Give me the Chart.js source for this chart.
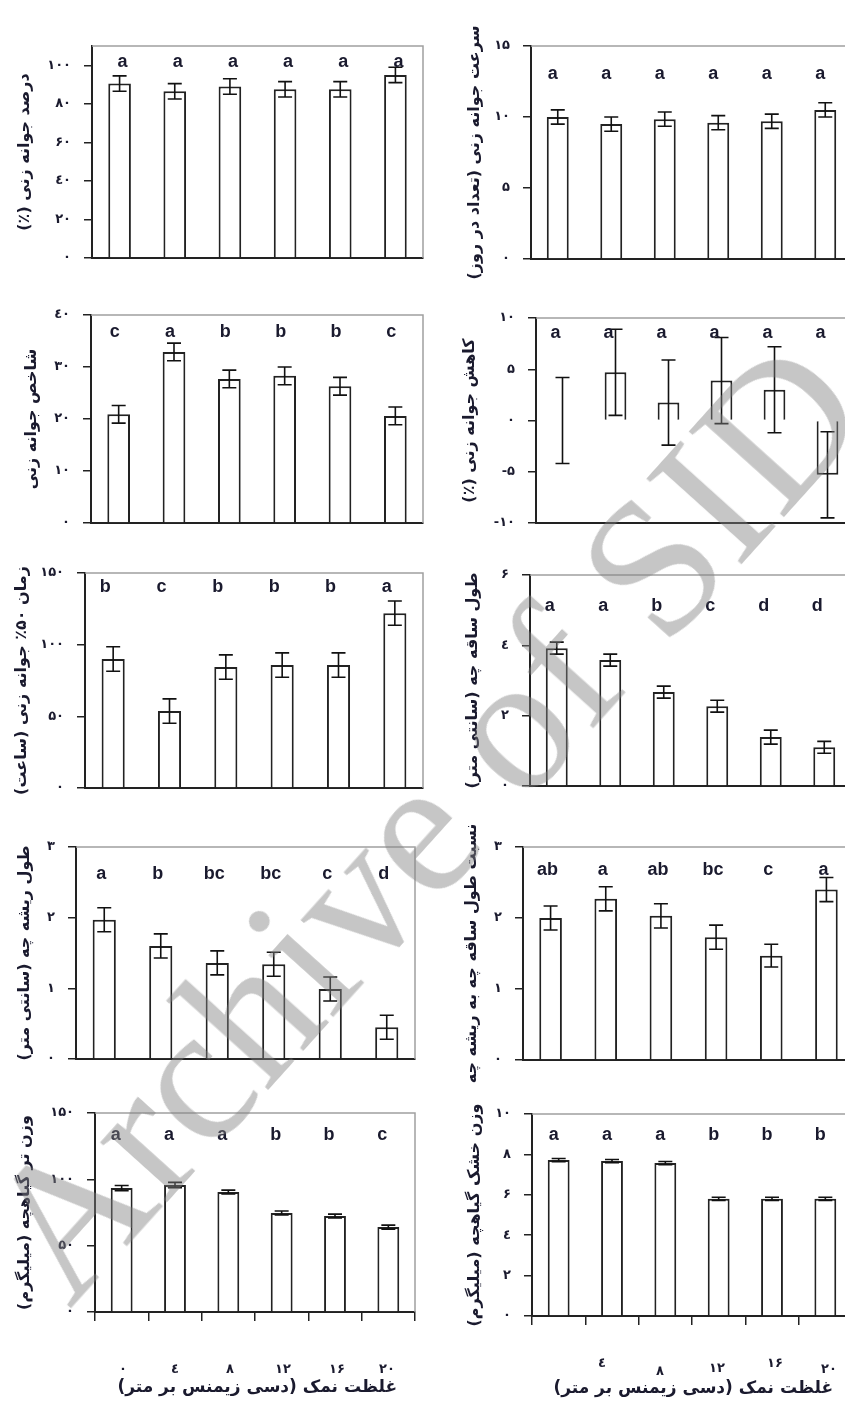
<!DOCTYPE html>
<html lang="fa">
<head>
<meta charset="UTF-8">
<title>Salinity and seedling traits</title>
<script src="https://cdn.jsdelivr.net/npm/chart.js@4"></script>
<style>
  html, body { margin: 0; padding: 0; background: #fff; overflow: hidden; width: 845px; height: 1403px; }
  body { position: relative; font-family: "DejaVu Sans", sans-serif; }
  canvas { position: absolute; }
  .xtitle { position: absolute; font: bold 17px "DejaVu Sans"; color: #1a1a2e; white-space: nowrap; }
  .xnum { position: absolute; font: bold 13px "DejaVu Sans"; color: #1a1a2e; transform: translate(-50%, -50%); white-space: nowrap; }
  .wm { position: absolute; left: 70px; top: 1147px; font: 195px "Liberation Serif"; line-height: 195px;
        color: rgba(128,128,128,0.45); transform-origin: 0 163px; transform: rotate(-48deg);
        white-space: nowrap; pointer-events: none; }
</style>
</head>
<body>

<div class="wm">Archive of SID</div>

<script>
// ---- data ----
const saltLevels = ['0', '4', '8', '12', '16', '20'];   // dS/m

const germPct        = [90.5, 86.5, 89, 87.5, 87.5, 95];
const germPctErr     = [4, 4, 4, 4, 4, 4];
const germPctLetters = ['a', 'a', 'a', 'a', 'a', 'a'];
const germPctTicks   = [0, 20, 40, 60, 80, 100];

const germRate        = [10.0, 9.5, 9.85, 9.6, 9.7, 10.5];
const germRateErr     = [0.5, 0.5, 0.5, 0.5, 0.5, 0.5];
const germRateLetters = ['a', 'a', 'a', 'a', 'a', 'a'];
const germRateTicks   = [0, 5, 10, 15];

const germIndex        = [20.9, 32.9, 27.7, 28.3, 26.3, 20.6];
const germIndexErr     = [1.7, 1.7, 1.7, 1.7, 1.7, 1.7];
const germIndexLetters = ['c', 'a', 'b', 'b', 'b', 'c'];
const germIndexTicks   = [0, 10, 20, 30, 40];

const germLoss        = [0, 4.7, 1.75, 3.9, 3.0, -5.3];
const germLossErr     = [4.2, 4.2, 4.15, 4.2, 4.2, 4.2];
const germLossLetters = ['a', 'a', 'a', 'a', 'a', 'a'];
const germLossTicks   = [-10, -5, 0, 5, 10];

const t50        = [90, 53.7, 84.4, 85.8, 85.8, 122];
const t50Err     = [8.5, 8.5, 8.5, 8.5, 8.5, 8.5];
const t50Letters = ['b', 'c', 'b', 'b', 'b', 'a'];
const t50Ticks   = [0, 50, 100, 150];

const shootLen        = [3.92, 3.58, 2.67, 2.27, 1.39, 1.1];
const shootLenErr     = [0.17, 0.17, 0.17, 0.17, 0.2, 0.17];
const shootLenLetters = ['a', 'a', 'b', 'c', 'd', 'd'];
const shootLenTicks   = [0, 2, 4, 6];

const rootLen        = [1.97, 1.6, 1.36, 1.34, 0.99, 0.45];
const rootLenErr     = [0.17, 0.17, 0.17, 0.17, 0.17, 0.17];
const rootLenLetters = ['a', 'b', 'bc', 'bc', 'c', 'd'];
const rootLenTicks   = [0, 1, 2, 3];

const ratio        = [2.0, 2.27, 2.03, 1.73, 1.47, 2.4];
const ratioErr     = [0.17, 0.17, 0.17, 0.17, 0.16, 0.17];
const ratioLetters = ['ab', 'a', 'ab', 'bc', 'c', 'a'];
const ratioTicks   = [0, 1, 2, 3];

const freshWt        = [93.4, 95.7, 90.4, 74.6, 72.3, 64];
const freshWtErr     = [2, 2, 1.5, 1.5, 1.5, 1.5];
const freshWtLetters = ['a', 'a', 'a', 'b', 'b', 'c'];
const freshWtTicks   = [0, 50, 100, 150];

const dryWt        = [7.72, 7.67, 7.57, 5.8, 5.8, 5.8];
const dryWtErr     = [0.08, 0.08, 0.08, 0.08, 0.08, 0.08];
const dryWtLetters = ['a', 'a', 'a', 'b', 'b', 'b'];
const dryWtTicks   = [0, 2, 4, 6, 8, 10];

const xAxisTitle = 'غلظت نمک (دسی زیمنس بر متر)';

// ---- helpers ----
const faDigits = '۰۱۲۳٤۵۶۷۸۹';
function toFa(v) {
  return String(v).replace(/\d/g, d => faDigits[+d]);
}
const rtl = s => '\u202B' + s + '\u202C';
const ink = '#1a1a2e';
const TITLE_FS = 16;

// error bars, grey frame, letters
const extras = {
  id: 'extras',
  afterDatasetsDraw(chart, args, opts) {
    const { ctx, chartArea: a } = chart;
    const y = chart.scales.y;
    const meta = chart.getDatasetMeta(0);
    ctx.save();
    // plot border (top / right)
    ctx.strokeStyle = '#a0a0a0';
    ctx.lineWidth = 1.5;
    ctx.beginPath();
    ctx.moveTo(a.left, a.top);
    ctx.lineTo(a.right, a.top);
    ctx.lineTo(a.right, a.bottom);
    ctx.stroke();
    // error bars
    ctx.strokeStyle = '#111';
    ctx.lineWidth = 1.6;
    meta.data.forEach((bar, i) => {
      const v = opts.values[i], e = opts.errs[i];
      const y1 = y.getPixelForValue(v + e), y2 = y.getPixelForValue(v - e);
      ctx.beginPath();
      ctx.moveTo(bar.x, y1); ctx.lineTo(bar.x, y2);
      ctx.moveTo(bar.x - 7, y1); ctx.lineTo(bar.x + 7, y1);
      ctx.moveTo(bar.x - 7, y2); ctx.lineTo(bar.x + 7, y2);
      ctx.stroke();
    });
    // mean separation letters
    ctx.fillStyle = ink;
    ctx.font = 'bold 18px "Liberation Sans", Arial, sans-serif';
    ctx.textAlign = 'center';
    ctx.textBaseline = 'middle';
    meta.data.forEach((bar, i) => {
      ctx.fillText(opts.letters[i], bar.x + opts.dx, a.top + opts.dy);
    });
    ctx.restore();
  }
};

const panels = [
  { col: 0, L: 92,  T: 46,   R: 423, B: 258,  titleX: 25,  min: 0,   max: 110, values: germPct,  errs: germPctErr,  letters: germPctLetters,  ticks: germPctTicks,  dx: 3,   dy: 16, title: 'درصد جوانه زنی (٪)' },
  { col: 1, L: 531, T: 46,   R: 852, B: 259,  titleX: 475, min: 0,   max: 15,  values: germRate, errs: germRateErr, letters: germRateLetters, ticks: germRateTicks, dx: -5,  dy: 28, title: 'سرعت جوانه زنی (تعداد در روز)' },
  { col: 0, L: 91,  T: 315,  R: 423, B: 523,  titleX: 32,  min: 0,   max: 40,  values: germIndex, errs: germIndexErr, letters: germIndexLetters, ticks: germIndexTicks, dx: -4, dy: 17, title: 'شاخص جوانه زنی' },
  { col: 1, L: 536, T: 318,  R: 854, B: 523,  titleX: 470, min: -10, max: 10,  values: germLoss, errs: germLossErr, letters: germLossLetters, ticks: germLossTicks, dx: -7,  dy: 15, title: 'کاهش جوانه زنی (٪)' },
  { col: 0, L: 85,  T: 573,  R: 423, B: 788,  titleX: 22,  min: 0,   max: 150, values: t50,      errs: t50Err,      letters: t50Letters,      ticks: t50Ticks,      dx: -8,  dy: 14, title: 'زمان ۵۰٪ جوانه زنی (ساعت)' },
  { col: 1, L: 530, T: 575,  R: 851, B: 786,  titleX: 473, min: 0,   max: 6,   values: shootLen, errs: shootLenErr, letters: shootLenLetters, ticks: shootLenTicks, dx: -7,  dy: 31, title: 'طول ساقه چه (سانتی متر)' },
  { col: 0, L: 76,  T: 847,  R: 415, B: 1059, titleX: 25,  min: 0,   max: 3,   values: rootLen,  errs: rootLenErr,  letters: rootLenLetters,  ticks: rootLenTicks,  dx: -3,  dy: 27, title: 'طول ریشه چه (سانتی متر)' },
  { col: 1, L: 523, T: 847,  R: 854, B: 1060, titleX: 472, min: 0,   max: 3,   values: ratio,    errs: ratioErr,    letters: ratioLetters,    ticks: ratioTicks,    dx: -3,  dy: 23, title: 'نسبت طول ساقه چه به ریشه چه' },
  { col: 0, L: 95,  T: 1113, R: 415, B: 1312, titleX: 25,  min: 0,   max: 150, values: freshWt,  errs: freshWtErr,  letters: freshWtLetters,  ticks: freshWtTicks,  dx: -6,  dy: 22, title: 'وزن تر گیاهچه (میلیگرم)', xTicks: true },
  { col: 1, L: 532, T: 1114, R: 852, B: 1316, titleX: 475, min: 0,   max: 10,  values: dryWt,    errs: dryWtErr,    letters: dryWtLetters,    ticks: dryWtTicks,    dx: -5,  dy: 21, title: 'وزن خشک گیاهچه (میلیگرم)', xTicks: true }
];

panels.forEach(p => {
  const cLeft = p.col ? 428 : 0;
  const cW = p.col ? 440 : 430;
  const padTop = 45, xH = 12, padBottom = 30;
  const cTop = p.T - padTop;
  const cH = (p.B - p.T) + padTop + xH + padBottom;
  const cv = document.createElement('canvas');
  cv.width = cW; cv.height = cH;
  cv.style.left = cLeft + 'px';
  cv.style.top = cTop + 'px';
  document.body.appendChild(cv);

  const yW = p.L - cLeft;
  const lh = TITLE_FS * 1.2;

  new Chart(cv.getContext('2d'), {
    type: 'bar',
    data: {
      labels: saltLevels,
      datasets: [{
        data: p.values,
        backgroundColor: '#fff',
        borderColor: '#222',
        borderWidth: 2,
        barPercentage: 0.41,
        categoryPercentage: 1
      }]
    },
    options: {
      responsive: false,
      animation: false,
      devicePixelRatio: 1,
      layout: { padding: { top: padTop, right: cW - (p.R - cLeft), bottom: padBottom, left: 0 } },
      plugins: {
        legend: { display: false },
        tooltip: { enabled: false },
        extras: { values: p.values, errs: p.errs, letters: p.letters, dx: p.dx, dy: p.dy }
      },
      scales: {
        x: {
          afterFit: s => { s.height = xH; },
          ticks: { display: false },
          grid: { drawOnChartArea: false, drawTicks: !!p.xTicks, tickLength: 9, color: '#222', lineWidth: 1.5, offset: true },
          border: { color: '#222', width: 2 }
        },
        y: {
          min: p.min,
          max: p.max,
          afterBuildTicks: s => { s.ticks = p.ticks.map(v => ({ value: v })); },
          afterFit: s => { s.width = yW; },
          ticks: {
            callback: v => toFa(v),
            font: { family: 'DejaVu Sans', size: 13, weight: 'bold' },
            color: ink,
            padding: 13
          },
          grid: { drawOnChartArea: false, tickLength: 8, color: '#222', lineWidth: 1.5 },
          border: { color: '#222', width: 2 },
          title: {
            display: true,
            text: rtl(p.title),
            font: { family: 'DejaVu Sans', size: TITLE_FS, weight: 'bold' },
            color: ink,
            padding: { top: p.titleX - cLeft - lh / 2, bottom: 0 }
          }
        }
      }
    },
    plugins: [extras]
  });
});

// x axis captions under the bottom row
const leftNumX  = [123, 175, 230, 283, 337, 387];
const rightNumX = [null, 602, 660, 717, 775, 829];
const rightNumY = [null, 1362, 1370, 1367, 1362, 1368];
function addNum(txt, x, y) {
  const d = document.createElement('div');
  d.className = 'xnum';
  d.textContent = txt;
  d.style.left = x + 'px';
  d.style.top = y + 'px';
  document.body.appendChild(d);
}
saltLevels.forEach((s, i) => {
  addNum(toFa(s), leftNumX[i], 1368);
  if (rightNumX[i] !== null) addNum(toFa(s), rightNumX[i], rightNumY[i]);
});
[[397, 1376], [833, 1377]].forEach(([right, top]) => {
  const d = document.createElement('div');
  d.className = 'xtitle';
  d.dir = 'rtl';
  d.textContent = xAxisTitle;
  d.style.right = (845 - right) + 'px';
  d.style.top = top + 'px';
  document.body.appendChild(d);
});
// keep the watermark above the canvases
document.body.appendChild(document.querySelector('.wm'));
</script>
</body>
</html>
